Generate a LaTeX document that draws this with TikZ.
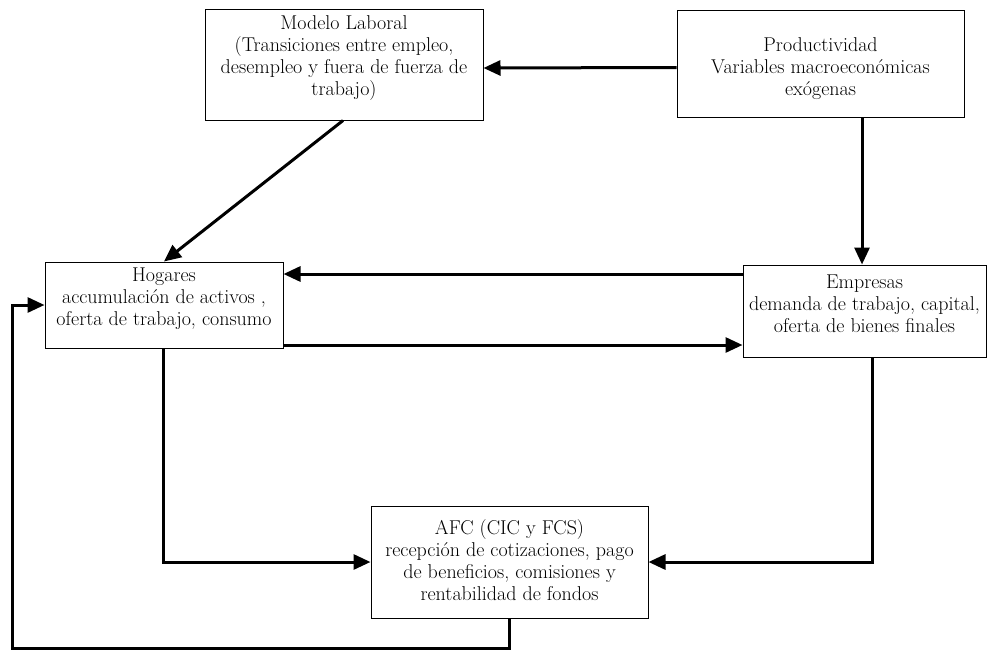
\documentclass[tikz,border=0pt]{standalone}
\usetikzlibrary{arrows.meta}
\begin{document}
\begin{tikzpicture}[x=1pt,y=-1pt,
  box/.style={draw=black,line width=1pt,rectangle,inner sep=0pt},
  txt/.style={align=center,inner sep=0pt,font=\fontsize{20}{22}\selectfont},
  arr/.style={line width=3pt,-{Triangle[length=17pt,width=15pt]}}]
\useasboundingbox (0,0) rectangle (987,651);
\node[box,minimum width=278pt,minimum height=111pt] (ml) at (344,64.5) {};
\node[txt] (mlt) at (344,58)
  {Modelo Laboral\\(Transiciones entre empleo,\\desempleo y fuera de fuerza de\\trabajo)};
\node[box,minimum width=287pt,minimum height=107pt] (pr) at (820.5,63.5) {};
\node[txt] (prt) at (820.5,69)
  {Productividad\\Variables macroecon\'omicas\\ex\'ogenas};
\node[box,minimum width=238pt,minimum height=86pt] (ho) at (164,305) {};
\node[txt] (hot) at (164,298.5)
  {Hogares\\accumulaci\'on de activos ,\\oferta de trabajo, consumo};
\node[box,minimum width=243pt,minimum height=92pt] (em) at (864.5,311) {};
\node[txt] (emt) at (864.5,303.5)
  {Empresas\\demanda de trabajo, capital,\\oferta de bienes finales};
\node[box,minimum width=277pt,minimum height=112pt] (afc) at (509.5,562) {};
\node[txt] (afct) at (509.5,560)
  {AFC (CIC y FCS)\\recepci\'on de cotizaciones, pago\\de beneficios, comisiones y\\rentabilidad de fondos};
\coordinate (bl) at (12,648);
\draw[arr] ([yshift=-4pt]pr.west) -- ([yshift=-3.5pt]ml.east);
\draw[arr] ([xshift=-1pt]ml.south) -- (ho.north);
\draw[arr] ([xshift=-2.5pt]em.north |- pr.south) -- ([xshift=-2.5pt]em.north);
\draw[arr] ([yshift=37pt]em.west) -- ([yshift=31pt]ho.east);
\draw[arr] ([yshift=-40pt]ho.east) -- ([yshift=-34pt]em.west);
\draw[arr] ([xshift=-1pt]ho.south) |- (afc.west);
\draw[arr] ([xshift=7.5pt]em.south) |- (afc.east);
\draw[arr] (afc.south) |- (bl) |- (ho.west);
\end{tikzpicture}
\end{document}
